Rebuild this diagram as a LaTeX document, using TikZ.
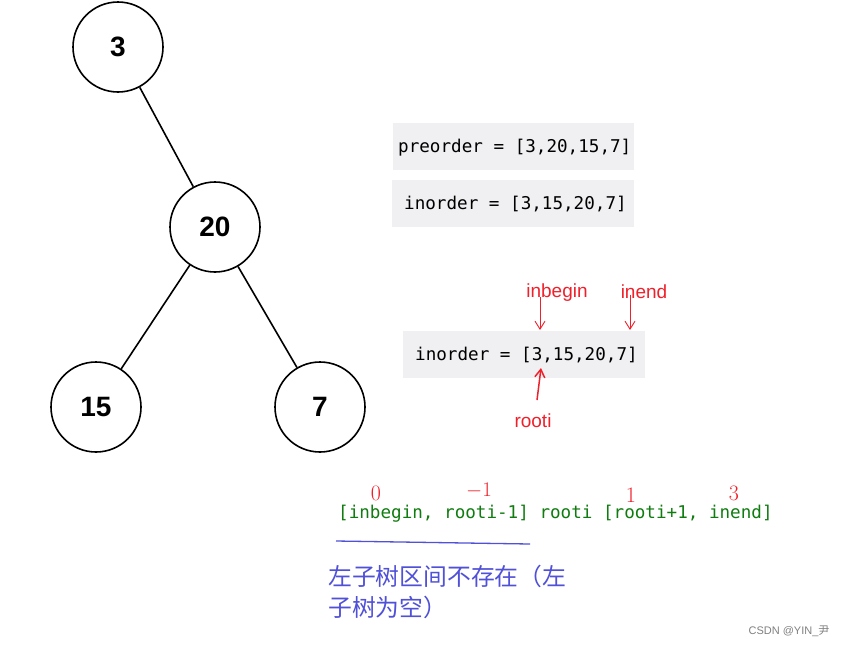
\documentclass[tikz,border=0pt]{standalone}
\usepackage{fontspec}
\setsansfont{Liberation Sans}
\newfontfamily\codefont{DejaVu Sans Mono}
\newfontfamily\cjk{Noto Sans CJK SC}
\usetikzlibrary{arrows.meta}
\newcommand\cdsp{\hspace*{10.6pt}}
\definecolor{codebg}{HTML}{F0F0F2}
\definecolor{codegreen}{HTML}{107C10}
\definecolor{hred}{HTML}{F0202A}
\definecolor{cjkblue}{HTML}{5050D8}
\tikzset{
 tnode/.style={circle,draw,line width=1.6pt,minimum size=90pt,inner sep=0pt,font=\sffamily\bfseries\fontsize{28}{30}\selectfont},
 tedge/.style={line width=1.6pt},
 codebox/.style={fill=codebg,anchor=west,inner sep=0pt,minimum height=47pt,text depth=0pt,font=\codefont\fontsize{17.6}{20}\selectfont},
 rlab/.style={text=hred,font=\sffamily\fontsize{19}{20}\selectfont},
 rnum/.style={text=hred,font=\fontsize{22}{24}\selectfont},
 rarr/.style={draw=hred,line width=0.9pt,-{Straight Barb[length=8pt,width=10pt]}},
}
\begin{document}
\begin{tikzpicture}[x=1pt,y=-1pt]
\useasboundingbox (0,0) rectangle (848,646);
\fill[white] (0,0) rectangle (848,646);
\node[tnode] (n3) at (118,47) {3};
\node[tnode] (n20) at (215,227) {20};
\node[tnode] (n15) at (96,407) {15};
\node[tnode] (n7) at (320,407) {7};
\draw[tedge] (n3) -- (n20);
\draw[tedge] (n20) -- (n15);
\draw[tedge] (n20) -- (n7);
\node[codebox,minimum width=241pt,text width=241pt,align=left] (pre) at (393,146) {\hspace*{5pt}preorder\cdsp=\cdsp[3,20,15,7]};
\node[codebox,minimum width=242pt,text width=242pt,align=left] (in1) at (392,203) {\hspace*{12pt}inorder\cdsp=\cdsp[3,15,20,7]};
\node[codebox,minimum width=242pt,text width=242pt,align=left] (in2) at (403,354) {\hspace*{12pt}inorder\cdsp=\cdsp[3,15,20,7]};
\node[rlab] (lb) at (557,293) {inbegin};
\node[rlab] (le) at (644,292) {inend};
\node[rlab] (lr) at (533,421) {rooti};
\coordinate (ab) at (540,330);
\coordinate (ae) at (630,330);
\coordinate (ar) at (541,368);
\coordinate (ars) at (537,400);
\draw[rarr] ([xshift=-17pt,yshift=8pt]lb.south) -- (ab);
\draw[rarr] ([xshift=-14pt,yshift=8pt]le.south) -- (ae);
\draw[rarr,line width=1.5pt] (ars) -- (ar);
\node[anchor=west,inner sep=0pt,text=codegreen,font=\codefont\fontsize{17.6}{20}\selectfont] (rng) at (338,514) {[inbegin,\cdsp rooti-1]\cdsp rooti\cdsp [rooti+1,\cdsp inend]};
\node[rnum] (z0) at (376,493) {0};
\node[rnum] (m1) at (479,491) {$-1$};
\node[rnum] (o1) at (631,495) {1};
\node[rnum] (t3) at (734,493) {3};
\coordinate (bl1) at (336,541);
\coordinate (bl2) at (530,544);
\draw[cjkblue,line width=1.3pt] (bl1) -- (bl2);
\node[anchor=north west,inner sep=0pt,text=cjkblue,align=left,font=\cjk\fontsize{23.8}{31}\selectfont] (cn) at (328,565) {左子树区间不存在（左\\子树为空）};
\node[text=gray,font=\sffamily\fontsize{11}{12}\selectfont] (wm) at (789,631) {CSDN @YIN\_\cjk 尹};
\end{tikzpicture}
\end{document}
